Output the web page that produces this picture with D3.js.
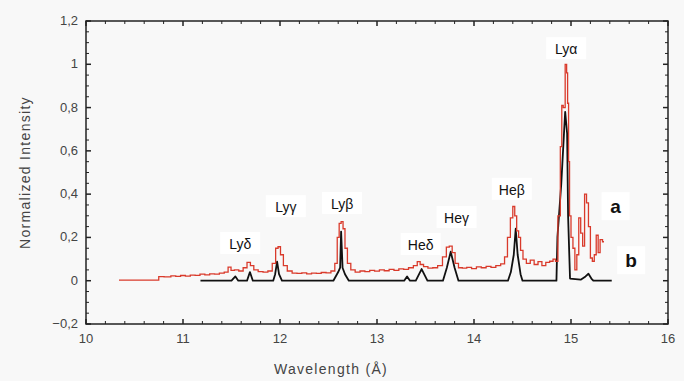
<!DOCTYPE html>
<html>
<head>
<meta charset="utf-8">
<script src="https://cdn.jsdelivr.net/npm/d3@7"></script>
<style>
  body { margin: 0; background: #f8f8f8; }
  svg { display: block; font-family: "Liberation Sans", Arial, sans-serif; }
  .tick-label { fill: #444; font-size: 13px; }
  .axis-title { fill: #444; font-size: 14px; letter-spacing: 1.3px; }
  .peak { fill: #111; font-size: 14px; }
  .series-tag { fill: #111; font-size: 19px; font-weight: bold; }
</style>
</head>
<body>
<div id="chart"></div>
<script>
// spectrum a (red)
const redWavelength = [10.34, 10.74, 10.76, 10.85, 10.90, 10.95, 11.00, 11.05, 11.10, 11.15, 11.20, 11.25,
  11.30, 11.35, 11.40, 11.45, 11.48, 11.51, 11.55, 11.60, 11.64, 11.68, 11.71, 11.75, 11.80, 11.85, 11.90,
  11.94, 11.97, 11.99, 12.02, 12.05, 12.10, 12.15, 12.20, 12.25, 12.30, 12.35, 12.40, 12.45, 12.50, 12.55,
  12.58, 12.60, 12.62, 12.64, 12.66, 12.68, 12.71, 12.75, 12.80, 12.85, 12.90, 12.95, 13.00, 13.05, 13.10,
  13.15, 13.20, 13.25, 13.30, 13.35, 13.40, 13.43, 13.46, 13.50, 13.55, 13.60, 13.65, 13.70, 13.73, 13.76,
  13.79, 13.82, 13.86, 13.90, 13.95, 14.00, 14.05, 14.10, 14.15, 14.20, 14.25, 14.30, 14.33, 14.36, 14.39,
  14.41, 14.43, 14.45, 14.47, 14.49, 14.52, 14.56, 14.60, 14.64, 14.68, 14.72, 14.76, 14.80, 14.83, 14.85,
  14.88, 14.90, 14.91, 14.93, 14.95, 14.96, 14.97, 14.98, 14.99, 15.01, 15.03, 15.05, 15.07, 15.09, 15.11,
  15.13, 15.15, 15.17, 15.19, 15.21, 15.23, 15.25, 15.27, 15.29, 15.31, 15.34];
const redIntensity = [0.003, 0.003, 0.019, 0.018, 0.022, 0.020, 0.024, 0.021, 0.026, 0.025, 0.030, 0.027,
  0.032, 0.030, 0.035, 0.040, 0.063, 0.048, 0.050, 0.045, 0.060, 0.085, 0.070, 0.050, 0.042, 0.040, 0.045,
  0.080, 0.150, 0.157, 0.120, 0.070, 0.045, 0.035, 0.034, 0.036, 0.032, 0.035, 0.034, 0.038, 0.036, 0.045,
  0.080, 0.200, 0.265, 0.273, 0.240, 0.150, 0.080, 0.050, 0.040, 0.045, 0.042, 0.048, 0.044, 0.050, 0.046,
  0.052, 0.048, 0.055, 0.052, 0.060, 0.070, 0.088, 0.075, 0.065, 0.058, 0.060, 0.070, 0.110, 0.155, 0.160,
  0.130, 0.080, 0.060, 0.058, 0.062, 0.056, 0.064, 0.060, 0.066, 0.062, 0.070, 0.078, 0.110, 0.200, 0.290,
  0.343, 0.300, 0.230, 0.200, 0.140, 0.100, 0.080, 0.095, 0.075, 0.088, 0.070, 0.085, 0.090, 0.100, 0.090,
  0.300, 0.620, 0.810, 0.800, 1.000, 0.960, 0.820, 0.550, 0.300, 0.200, 0.150, 0.050, 0.120, 0.290, 0.220,
  0.160, 0.400, 0.360, 0.250, 0.105, 0.090, 0.120, 0.210, 0.130, 0.190, 0.180];

// spectrum b (black)
const blackWavelength = [11.18, 11.50, 11.54, 11.57, 11.66, 11.69, 11.72, 11.93, 11.95, 11.97, 11.99, 12.02,
  12.55, 12.60, 12.62, 12.63, 12.645, 12.67, 12.71, 13.28, 13.31, 13.34, 13.40, 13.46, 13.52, 13.68, 13.72,
  13.76, 13.80, 13.84, 14.35, 14.38, 14.41, 14.43, 14.45, 14.48, 14.50, 14.85, 14.86, 14.90, 14.93, 14.94,
  14.96, 14.97, 14.99, 15.10, 15.15, 15.18, 15.21, 15.23, 15.42];
const blackIntensity = [0, 0, 0.02, 0, 0, 0.04, 0, 0, 0.03, 0.088, 0.03, 0,
  0, 0.04, 0.06, 0.227, 0.06, 0.03, 0, 0, 0.02, 0, 0, 0.054, 0, 0, 0.06,
  0.134, 0.06, 0, 0, 0.04, 0.12, 0.24, 0.12, 0.03, 0, 0, 0.20, 0.45, 0.70, 0.78,
  0.68, 0.30, 0.01, 0.005, 0.02, 0.032, 0.01, 0, 0];

const peakNames = ["Lyδ", "Lyγ", "Lyβ", "Heδ", "Heγ", "Heβ", "Lyα"];
const peakLabelX = [11.59, 12.06, 12.64, 13.45, 13.82, 14.39, 14.95];
const peakLabelY = [0.17, 0.34, 0.355, 0.165, 0.29, 0.42, 1.07];
const seriesNames = ["a", "b"];
const seriesLabelX = [15.46, 15.62];
const seriesLabelY = [0.34, 0.09];

const xTicks = [10, 11, 12, 13, 14, 15, 16];
const yTicks = [-0.2, 0, 0.2, 0.4, 0.6, 0.8, 1, 1.2];

const W = 684, H = 381;
const plotLeft = 86, plotRight = 668, plotTop = 21, plotBottom = 324;

const x = d3.scaleLinear().domain([10, 16]).range([plotLeft, plotRight]);
const y = d3.scaleLinear().domain([-0.2, 1.2]).range([plotBottom, plotTop]);

const comma = d3.formatLocale({decimal: ",", thousands: ".", grouping: [3], currency: ["", ""]}).format("~g");

const svg = d3.select("#chart").append("svg")
    .attr("width", W)
    .attr("height", H);

// label boxes behind peak names
const lbl = svg.append("g");
peakNames.forEach(function (name, i) {
    lbl.append("rect")
        .attr("x", x(peakLabelX[i]) - 20)
        .attr("y", y(peakLabelY[i]) - 12)
        .attr("width", 40)
        .attr("height", 22)
        .attr("fill", "#fff");
});
seriesNames.forEach(function (name, i) {
    lbl.append("rect")
        .attr("x", x(seriesLabelX[i]) - 14)
        .attr("y", y(seriesLabelY[i]) - 15)
        .attr("width", 28)
        .attr("height", 28)
        .attr("fill", "#fff");
});

const blackData = blackWavelength.map((w, i) => [w, blackIntensity[i]]);
const redData = redWavelength.map((w, i) => [w, redIntensity[i]]);

svg.append("path")
    .datum(blackData)
    .attr("fill", "none")
    .attr("stroke", "#111")
    .attr("stroke-width", 1.8)
    .attr("stroke-linejoin", "round")
    .attr("d", d3.line().x(d => x(d[0])).y(d => y(d[1])));

// red spectrum looks like a binned histogram, draw it stepped
svg.append("path")
    .datum(redData)
    .attr("fill", "none")
    .attr("stroke", "#d93a2b")
    .attr("stroke-width", 1.3)
    .attr("d", d3.line().curve(d3.curveStep).x(d => x(d[0])).y(d => y(d[1])));

// frame + inward ticks on all four sides
const axes = svg.append("g").attr("stroke", "#222");
axes.append("rect")
    .attr("x", plotLeft).attr("y", plotTop)
    .attr("width", plotRight - plotLeft).attr("height", plotBottom - plotTop)
    .attr("fill", "none")
    .attr("stroke-width", 1.5);

d3.range(10, 16.001, 0.2).forEach(function (v) {
    const major = Math.abs(v - Math.round(v)) < 1e-6;
    const len = major ? 5 : 3;
    axes.append("line").attr("x1", x(v)).attr("x2", x(v)).attr("y1", plotBottom).attr("y2", plotBottom - len)
        .attr("stroke-width", major ? 1.5 : 1);
    axes.append("line").attr("x1", x(v)).attr("x2", x(v)).attr("y1", plotTop).attr("y2", plotTop + len)
        .attr("stroke-width", major ? 1.5 : 1);
});
d3.range(-0.2, 1.2001, 0.05).forEach(function (v) {
    const major = Math.abs(v * 5 - Math.round(v * 5)) < 1e-6;
    const len = major ? 5 : 3;
    axes.append("line").attr("y1", y(v)).attr("y2", y(v)).attr("x1", plotLeft).attr("x2", plotLeft + len)
        .attr("stroke-width", major ? 1.5 : 1);
    axes.append("line").attr("y1", y(v)).attr("y2", y(v)).attr("x1", plotRight).attr("x2", plotRight - len)
        .attr("stroke-width", major ? 1.5 : 1);
});

svg.append("g").selectAll("text")
    .data(xTicks)
    .join("text")
    .attr("class", "tick-label")
    .attr("x", d => x(d))
    .attr("y", plotBottom + 19)
    .attr("text-anchor", "middle")
    .text(d => comma(d));

svg.append("g").selectAll("text")
    .data(yTicks)
    .join("text")
    .attr("class", "tick-label")
    .attr("x", plotLeft - 8)
    .attr("y", d => y(d) + 4)
    .attr("text-anchor", "end")
    .text(d => comma(d));

svg.append("text")
    .attr("class", "axis-title")
    .attr("transform", "translate(30," + (plotTop + plotBottom) / 2 + ") rotate(-90)")
    .attr("text-anchor", "middle")
    .text("Normalized Intensity");

svg.append("text")
    .attr("class", "axis-title")
    .attr("x", 331)
    .attr("y", 374)
    .attr("text-anchor", "middle")
    .text("Wavelength (Å)");

svg.append("g").selectAll("text")
    .data(peakNames)
    .join("text")
    .attr("class", "peak")
    .attr("x", (d, i) => x(peakLabelX[i]))
    .attr("y", (d, i) => y(peakLabelY[i]) + 5)
    .attr("text-anchor", "middle")
    .text(d => d);

svg.append("g").selectAll("text")
    .data(seriesNames)
    .join("text")
    .attr("class", "series-tag")
    .attr("x", (d, i) => x(seriesLabelX[i]))
    .attr("y", (d, i) => y(seriesLabelY[i]) + 6)
    .attr("text-anchor", "middle")
    .text(d => d);
</script>
</body>
</html>
